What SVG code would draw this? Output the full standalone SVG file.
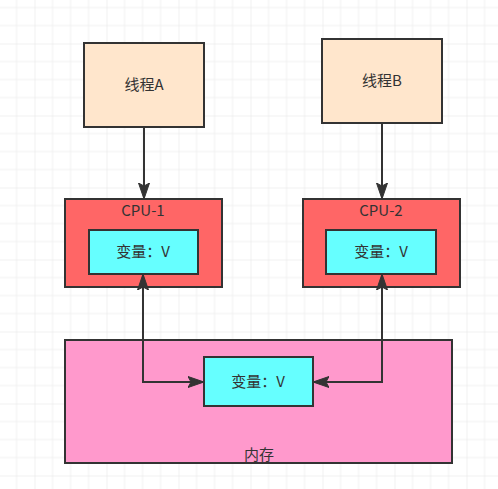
<svg xmlns="http://www.w3.org/2000/svg" width="498" height="489" viewBox="0 0 498 489">
  <defs>
    <pattern id="grid" x="34.5" y="43.5" width="72" height="72" patternUnits="userSpaceOnUse">
      <path d="M18 0V72M36 0V72M54 0V72M0 18H72M0 36H72M0 54H72" stroke="#f0f0f0" stroke-width="1" fill="none"/>
      <path d="M0 0V72M0 0H72" stroke="#e4e4e4" stroke-width="1" fill="none"/>
    </pattern>
    <marker id="arr" viewBox="0 0 16 12" refX="15" refY="6" markerWidth="16" markerHeight="12" markerUnits="userSpaceOnUse" orient="auto-start-reverse">
      <path d="M0 0.5L16 6L0 11.5L3 6Z" fill="#333333" stroke="#333333" stroke-width="1"/>
    </marker>
    <style>
      .box { stroke: #333333; stroke-width: 2; }
      .thread { fill: #FFE6CC; }
      .cpu { fill: #FF6666; }
      .var { fill: #66FFFF; }
      .mem { fill: #FF99CC; }
      .lbl { font-family: "Noto Sans CJK SC", "Liberation Sans", sans-serif; font-size: 15px; fill: #333333; text-anchor: middle; }
      .conn { fill: none; stroke: #333333; stroke-width: 2; }
    </style>
  </defs>
  <rect width="498" height="489" fill="#ffffff"/>
  <rect width="498" height="489" fill="url(#grid)"/>

  <g id="threadA">
    <rect class="box thread" x="84" y="43" width="120" height="84"/>
    <text class="lbl" x="144" y="90">线程A</text>
  </g>
  <g id="threadB">
    <rect class="box thread" x="322" y="39" width="120" height="84"/>
    <text class="lbl" x="382" y="86">线程B</text>
  </g>
  <g id="cpu1">
    <rect class="box cpu" x="65" y="199" width="157" height="88"/>
    <text class="lbl" x="143" y="216">CPU-1</text>
  </g>
  <g id="cpu1var">
    <rect class="box var" x="89" y="230" width="109" height="44"/>
    <text class="lbl" x="143" y="257">变量：V</text>
  </g>
  <g id="cpu2">
    <rect class="box cpu" x="303" y="199" width="157" height="88"/>
    <text class="lbl" x="381" y="216">CPU-2</text>
  </g>
  <g id="cpu2var">
    <rect class="box var" x="326" y="230" width="110" height="44"/>
    <text class="lbl" x="381" y="257">变量：V</text>
  </g>
  <g id="memory">
    <rect class="box mem" x="65" y="340" width="387" height="123"/>
    <text class="lbl" x="259" y="460">内存</text>
  </g>
  <g id="memvar">
    <rect class="box var" x="204" y="357" width="109" height="49"/>
    <text class="lbl" x="258" y="387">变量：V</text>
  </g>

  <g id="connectors">
    <path class="conn" d="M144 127V198" marker-end="url(#arr)"/>
    <path class="conn" d="M382 123V198" marker-end="url(#arr)"/>
    <path class="conn" d="M143 275V382H203" marker-start="url(#arr)" marker-end="url(#arr)"/>
    <path class="conn" d="M382 275V382H314" marker-start="url(#arr)" marker-end="url(#arr)"/>
  </g>
</svg>
